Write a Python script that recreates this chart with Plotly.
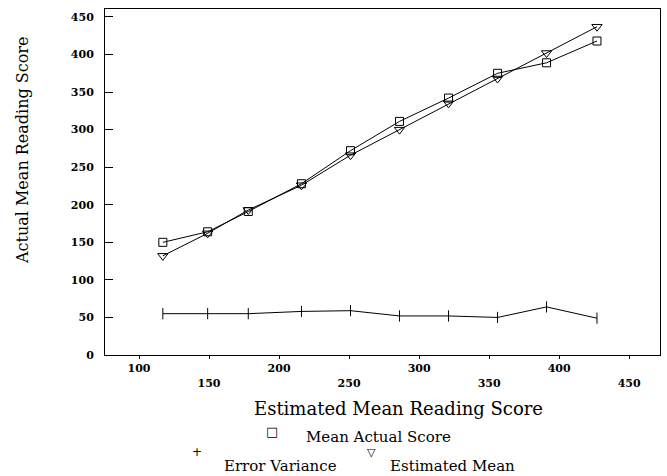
import plotly.graph_objects as go

# Data
est_x = [117, 149, 178, 216, 251, 286, 321, 356, 391, 427]
mean_actual = [150, 164, 191, 228, 272, 311, 342, 375, 389, 418]
estimated_mean = [132, 162, 193, 226, 266, 300, 335, 368, 402, 437]
error_variance = [55, 55, 55, 58, 59, 52, 52, 50, 64, 49]

x_ticks = [100, 150, 200, 250, 300, 350, 400, 450]
x_ticktext = ["100", "<br>150", "200", "<br>250", "300", "<br>350", "400", "<br>450"]
y_ticks = [0, 50, 100, 150, 200, 250, 300, 350, 400, 450]

FONT = "DejaVu Serif"
L, R, T, B = 105, 7, 9, 121
W, H = 667, 476

fig = go.Figure()
line = dict(color="black", width=1)
fig.add_trace(go.Scatter(x=est_x, y=mean_actual, mode="lines+markers", name="Mean Actual Score",
                         line=line, marker=dict(symbol="square-open", size=8, color="black", line=dict(width=1))))
fig.add_trace(go.Scatter(x=est_x, y=error_variance, mode="lines+markers", name="Error Variance",
                         line=line, marker=dict(symbol="line-ns-open", size=8, color="black", line=dict(width=1))))
fig.add_trace(go.Scatter(x=est_x, y=estimated_mean, mode="lines+markers", name="Estimated Mean",
                         line=line, marker=dict(symbol="triangle-down-open", size=9, color="black", line=dict(width=1))))

fig.update_layout(
    width=W, height=H,
    margin=dict(l=L, r=R, t=T, b=B),
    paper_bgcolor="white", plot_bgcolor="white",
    showlegend=False,
    font=dict(family=FONT, color="black"),
)
fig.update_xaxes(
    range=[75.7, 472], tickvals=x_ticks, ticktext=x_ticktext,
    showline=True, linecolor="black", linewidth=1, mirror=True,
    ticks="outside", ticklen=3, tickcolor="black", showgrid=False, zeroline=False,
    tickfont=dict(family=FONT, size=11, color="black", weight="bold"),
)
fig.update_yaxes(
    range=[0, 460.6], tickvals=y_ticks,
    showline=True, linecolor="black", linewidth=1, mirror=True,
    ticks="inside", ticklen=8, tickcolor="black", showgrid=False, zeroline=False,
    tickfont=dict(family=FONT, size=11, color="black", weight="bold"),
    ticklabelstandoff=8,
)

def px2paper(px, py):
    return (px - L) / (W - L - R), (H - B - py) / (H - B - T)

# Axis titles placed as in the reference
tx, ty = px2paper(22, 150)
fig.add_annotation(text="Actual Mean Reading Score", xref="paper", yref="paper", x=tx, y=ty,
                   textangle=-90, xanchor="center", yanchor="middle", showarrow=False,
                   font=dict(family=FONT, size=16, color="black"))
tx, ty = px2paper(398, 408)
fig.add_annotation(text="Estimated Mean Reading Score", xref="paper", yref="paper", x=tx, y=ty,
                   xanchor="center", yanchor="middle", showarrow=False,
                   font=dict(family=FONT, size=18, color="black"))

# Legend drawn as text, matching the reference arrangement
legend_items = [
    ("\u25a1", 272, 431, 13, "DejaVu Sans"), ("Mean Actual Score", 378, 437, 15, FONT),
    ("+", 197, 452, 12, "DejaVu Sans"), ("Error Variance", 280, 466, 15, FONT),
    ("\u25bd", 371, 452, 11, "DejaVu Sans"), ("Estimated Mean", 452, 466, 15, FONT),
]
for text, px, py, size, fam in legend_items:
    ax, ay = px2paper(px, py)
    fig.add_annotation(text=text, xref="paper", yref="paper", x=ax, y=ay,
                       xanchor="center", yanchor="middle", showarrow=False,
                       font=dict(family=fam, size=size, color="black"))

fig.write_html("out.html")
